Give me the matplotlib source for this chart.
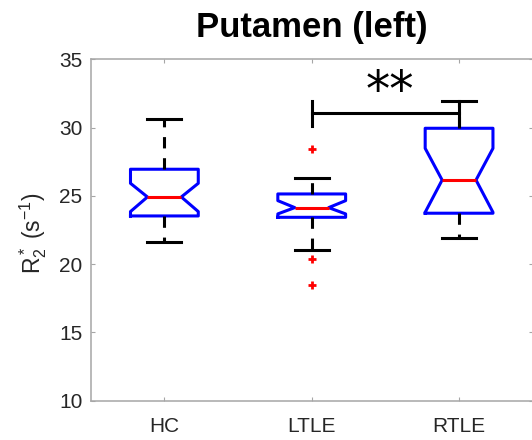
import numpy as np
import matplotlib
matplotlib.use('Agg')
import matplotlib.pyplot as plt

plt.rcParams['font.family'] = ['Liberation Sans', 'DejaVu Sans']
plt.rcParams['mathtext.fontset'] = 'custom'
plt.rcParams['mathtext.rm'] = 'Liberation Sans'
plt.rcParams['mathtext.it'] = 'Liberation Sans'

# R2* summary statistics per group (s^-1)
groups = ['HC', 'LTLE', 'RTLE']
whislo = [21.6, 21.05, 21.9]
q1 = [23.53, 23.43, 23.73]
med = [24.92, 24.14, 26.16]
q3 = [26.95, 25.14, 29.95]
whishi = [30.63, 26.31, 31.95]
ci_lo = [23.85, 23.68, 23.80]
ci_hi = [25.92, 24.65, 28.48]
fliers = [[], [28.43, 20.36, 18.46], []]

# significance bracket LTLE vs RTLE
sig_pair = (2, 3)
sig_y = 31.07
sig_tick = (30.12, 31.95)
sig_text = '**'

stats = []
for i, g in enumerate(groups):
    stats.append(dict(label=g, whislo=whislo[i], q1=q1[i], med=med[i], q3=q3[i],
                      whishi=whishi[i], cilo=ci_lo[i], cihi=ci_hi[i],
                      fliers=np.array(fliers[i])))

fig = plt.figure(figsize=(5.32, 4.40), dpi=100)
ax = fig.add_axes([0.1705, 0.0893, 0.8309, 0.7759])

lw = 2.2
ax.bxp(stats, positions=[1, 2, 3], widths=0.46, shownotches=True,
       boxprops=dict(color='blue', linewidth=lw),
       medianprops=dict(color='red', linewidth=lw),
       whiskerprops=dict(color='black', linewidth=lw, linestyle=(0, (3.7, 3.2))),
       capprops=dict(color='black', linewidth=lw),
       flierprops=dict(marker='+', markeredgecolor='red', markersize=6,
                       markeredgewidth=2, linestyle='none'))

x0, x1 = sig_pair
ax.plot([x0, x1], [sig_y, sig_y], color='black', lw=lw, zorder=5)
ax.plot([x0, x0], sig_tick, color='black', lw=lw, zorder=5)
ax.plot([x1, x1], sig_tick, color='black', lw=lw, zorder=5)
ax.text(2.527, 32.63, sig_text, ha='center', va='center', fontsize=35,
        family='DejaVu Sans', color='black')

ax.set_xlim(0.5, 3.5)
ax.set_ylim(10, 35)
ax.set_yticks(np.arange(10, 36, 5))
ax.set_xticks([1, 2, 3])
ax.set_xticklabels(groups)

for s in ax.spines.values():
    s.set_color('#a6a6a6')
    s.set_linewidth(1.1)
ax.tick_params(direction='in', length=3, width=0.8, color='#a6a6a6',
               labelsize=15, labelcolor='#262626', top=True, right=True)
ax.tick_params(axis='y', pad=6)
ax.tick_params(axis='x', pad=11.5)

ax.set_ylabel(r'$\mathregular{R^*_2\ (s^{-1})}$', fontsize=16.5, color='#262626')
ax.yaxis.set_label_coords(-0.094, 0.49)
ax.set_title('Putamen (left)', fontsize=25, fontweight='bold', pad=16)

fig.savefig('out.png', dpi=100)
